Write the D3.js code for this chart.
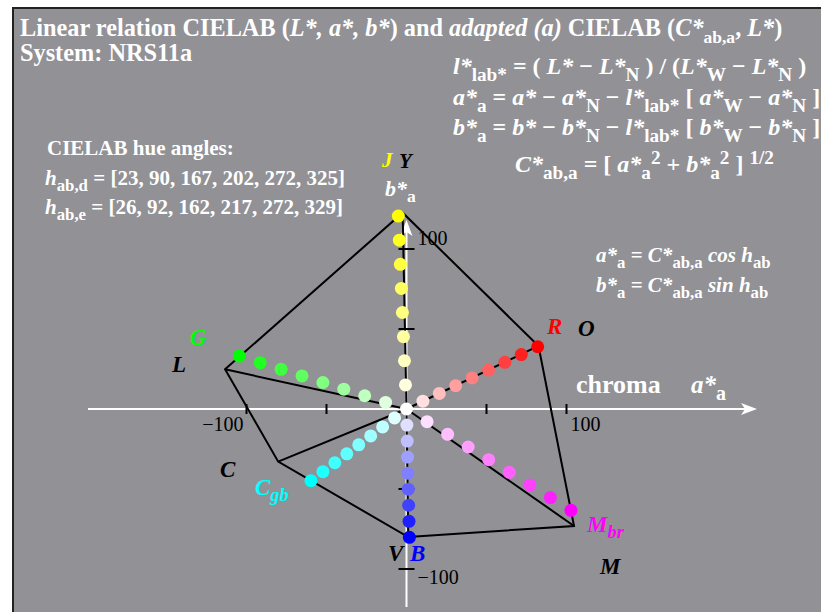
<!DOCTYPE html>
<html>
<head>
<meta charset="utf-8">
<script src="https://cdn.jsdelivr.net/npm/d3@7"></script>
<style>
  body { margin: 0; background: #ffffff; }
  svg { display: block; }
  text { white-space: pre; }
</style>
</head>
<body>
<svg id="chart" width="821" height="612"></svg>
<script>
// Hue series: name, colour and outer end point (a*_a, b*_a)
const seriesNames = ["R", "J", "G", "Cgb", "B", "Mbr"];
const seriesColors = ["#ff0000", "#ffff00", "#00ff00", "#00ffff", "#0000ff", "#ff00ff"];
const seriesA = [82.0, -5.1, -104.5, -59.7, 1.8, 102.8];
const seriesB = [38.9, 120.6, 33.1, -44.8, -80.2, -63.3];
const stepsPerSeries = 8;

// Device hexagon corners (a*_a, b*_a)
const hexNames = ["O", "Y", "L", "C", "V", "M"];
const hexA = [82.5, -2.4, -113.4, -80.2, 1.1, 104.7];
const hexB = [39.4, 122.7, 24.8, -32.9, -80.0, -73.1];

// Hue angle lists printed in the legend
const hueD = [23, 90, 167, 202, 272, 325];
const hueE = [26, 92, 162, 217, 272, 329];

// Axis ticks
const tickValues = [-100, -50, 50, 100];
const tickLabelValues = [-100, 100];

const FONT = "'Liberation Serif','Times New Roman',Times,serif";
const svg = d3.select("#chart");

// Frame
svg.append("rect").attr("x", 13).attr("y", 8).attr("width", 830).attr("height", 640)
  .attr("fill", "#919196").attr("stroke", "#222222").attr("stroke-width", 2);

// Scales: 1.6 px per unit, origin at (406.5, 409)
const x = d3.scaleLinear().domain([-100, 100]).range([246.5, 566.5]);
const y = d3.scaleLinear().domain([-100, 100]).range([569, 249]);

// Rich text helper: segments with italic / sub / sup / colour
function rich(parent, px, py, segs, opt) {
  const fs = opt.size;
  const ratio = opt.subRatio || 0.8;
  const t = parent.append("text")
    .attr("x", px).attr("y", py)
    .attr("font-family", FONT)
    .attr("font-weight", opt.weight || "bold")
    .attr("font-size", fs)
    .attr("fill", opt.fill || "#ffffff");
  let cur = 0;
  segs.forEach(s => {
    const seg = typeof s === "string" ? { t: s } : s;
    const target = seg.sub ? fs * 0.28 : seg.sup ? -fs * 0.34 : 0;
    const sp = t.append("tspan").text(seg.t).attr("dy", target - cur);
    cur = target;
    const italic = seg.i !== undefined ? seg.i : opt.italic;
    if (italic) sp.attr("font-style", "italic");
    if (seg.sub || seg.sup) sp.attr("font-size", fs * ratio);
    if (seg.c) sp.attr("fill", seg.c);
    if (seg.dx) sp.attr("dx", seg.dx);
  });
  return t;
}

// Title lines
rich(svg, 20, 36, [
  "Linear relation CIELAB (", { t: "L*, a*, b*", i: 1 }, ") and ",
  { t: "adapted (a)", i: 1 }, " CIELAB (", { t: "C*", i: 1 }, { t: "ab,a", sub: 1 },
  ", ", { t: "L*", i: 1 }, ")"
], { size: 24.3, subRatio: 0.72 });
rich(svg, 20, 61, ["System: NRS11a"], { size: 24.3 });

// Formulas (upper right)
const M = " \u2212 ";
const FS = 24;
rich(svg, 453, 74, [
  { t: "l*", i: 1 }, { t: "lab*", sub: 1 }, " = ( ", { t: "L*", i: 1 }, M,
  { t: "L*", i: 1 }, { t: "N", sub: 1 }, " ) / (", { t: "L*", i: 1 }, { t: "W", sub: 1 },
  M, { t: "L*", i: 1 }, { t: "N", sub: 1 }, " )"
], { size: FS });
rich(svg, 453, 105, [
  { t: "a*", i: 1 }, { t: "a", sub: 1 }, " = ", { t: "a*", i: 1 }, M,
  { t: "a*", i: 1 }, { t: "N", sub: 1 }, M, { t: "l*", i: 1 }, { t: "lab*", sub: 1 },
  " [ ", { t: "a*", i: 1 }, { t: "W", sub: 1 }, M, { t: "a*", i: 1 }, { t: "N", sub: 1 }, " ]"
], { size: FS });
rich(svg, 453, 135, [
  { t: "b*", i: 1 }, { t: "a", sub: 1 }, " = ", { t: "b*", i: 1 }, M,
  { t: "b*", i: 1 }, { t: "N", sub: 1 }, M, { t: "l*", i: 1 }, { t: "lab*", sub: 1 },
  " [ ", { t: "b*", i: 1 }, { t: "W", sub: 1 }, M, { t: "b*", i: 1 }, { t: "N", sub: 1 }, " ]"
], { size: FS });
rich(svg, 515, 172, [
  { t: "C*", i: 1 }, { t: "ab,a", sub: 1 }, " = [ ", { t: "a*", i: 1 }, { t: "a", sub: 1 },
  { t: "2", sup: 1 }, " + ", { t: "b*", i: 1 }, { t: "a", sub: 1 },
  { t: "2", sup: 1 }, " ] ", { t: "1/2", sup: 1 }
], { size: FS });

// Hue angle legend
rich(svg, 47, 155, ["CIELAB hue angles:"], { size: 21 });
rich(svg, 45, 185, [{ t: "h", i: 1 }, { t: "ab,d", sub: 1 }, " = [" + hueD.join(", ") + "]"], { size: 21 });
rich(svg, 45, 214, [{ t: "h", i: 1 }, { t: "ab,e", sub: 1 }, " = [" + hueE.join(", ") + "]"], { size: 21 });

// Polar relation
rich(svg, 596, 262, [
  { t: "a*", i: 1 }, { t: "a", sub: 1 }, " = ", { t: "C*", i: 1 }, { t: "ab,a", sub: 1 },
  { t: " cos ", i: 1 }, { t: "h", i: 1 }, { t: "ab", sub: 1 }
], { size: 21 });
rich(svg, 596, 292, [
  { t: "b*", i: 1 }, { t: "a", sub: 1 }, " = ", { t: "C*", i: 1 }, { t: "ab,a", sub: 1 },
  { t: " sin ", i: 1 }, { t: "h", i: 1 }, { t: "ab", sub: 1 }
], { size: 21 });

// Axes (white with arrow heads)
const axes = svg.append("g").attr("stroke", "#ffffff").attr("stroke-width", 2);
axes.append("line").attr("x1", 88).attr("y1", y(0)).attr("x2", 745).attr("y2", y(0));
axes.append("line").attr("x1", x(0)).attr("y1", 607).attr("x2", x(0)).attr("y2", 232);
svg.append("path").attr("fill", "#ffffff")
  .attr("d", `M757,${y(0)} L741,${y(0) - 6} L745,${y(0)} L741,${y(0) + 6} Z`);
svg.append("path").attr("fill", "#ffffff")
  .attr("d", `M${x(0)},220 L${x(0) - 6},236 L${x(0)},232 L${x(0) + 6},236 Z`);

// Ticks
const ticks = svg.append("g").attr("stroke", "#000000").attr("stroke-width", 2);
tickValues.forEach(v => {
  ticks.append("line").attr("x1", x(v)).attr("x2", x(v)).attr("y1", y(0) - 5).attr("y2", y(0) + 5);
  ticks.append("line").attr("y1", y(v)).attr("y2", y(v)).attr("x1", x(0) - 8).attr("x2", x(0) + 8);
});
const fmt = v => (v < 0 ? "\u2212" : "") + Math.abs(v);
tickLabelValues.forEach(v => {
  svg.append("text").attr("x", x(v) + (v < 0 ? -3 : 4)).attr("y", 431)
    .attr("text-anchor", v < 0 ? "end" : "start")
    .attr("font-family", FONT).attr("font-size", 20).attr("fill", "#000").text(fmt(v));
  svg.append("text").attr("x", x(0) + 11).attr("y", v > 0 ? 245 : 584)
    .attr("font-family", FONT).attr("font-size", 20).attr("fill", "#000").text(fmt(v));
});

// Hexagon and spokes
const hex = hexA.map((a, i) => [x(a), y(hexB[i])]);
const lines = svg.append("g").attr("stroke", "#000000").attr("stroke-width", 2).attr("fill", "none");
lines.append("path").attr("d", d3.line()(hex.concat([hex[0]])));
hex.forEach(p => lines.append("line").attr("x1", x(0)).attr("y1", y(0)).attr("x2", p[0]).attr("y2", p[1]));

// Dot series from the neutral centre outward
const dots = svg.append("g");
seriesA.forEach((a, i) => {
  const mix = d3.interpolateRgb("#ffffff", seriesColors[i]);
  d3.range(1, stepsPerSeries + 1).forEach(k => {
    const f = k / stepsPerSeries;
    dots.append("circle").attr("cx", x(a * f)).attr("cy", y(seriesB[i] * f))
      .attr("r", 6.5).attr("fill", mix(f));
  });
});
dots.append("circle").attr("cx", x(0)).attr("cy", y(0)).attr("r", 6.5).attr("fill", "#ffffff");

// Corner and series labels
const lab = (px, py, segs, fill, size) => rich(svg, px, py, segs, { size: size || 23, fill, italic: true });
lab(382, 167, ["J"], "#ffff00", 21);
lab(399, 168, ["Y"], "#000000", 21);
lab(385, 196, [{ t: "b*" }, { t: "a", sub: 1, i: 0 }], "#ffffff", 22);
lab(190, 345, ["G"], "#00ff00");
lab(172, 372, ["L"], "#000000");
lab(547, 334, ["R"], "#ff0000");
lab(578, 336, ["O"], "#000000");
lab(220, 477, ["C"], "#000000");
lab(255, 495, ["C", { t: "gb", sub: 1 }], "#00ffff");
lab(388, 561, ["V"], "#000000");
lab(410, 561, ["B"], "#0000ff");
lab(587, 532, ["M", { t: "br", sub: 1 }], "#ff00ff");
lab(600, 574, ["M"], "#000000");
rich(svg, 576, 393, ["chroma"], { size: 26 });
rich(svg, 691, 393, [{ t: "a*", i: 1 }, { t: "a", sub: 1 }], { size: 25 });
</script>
</body>
</html>
